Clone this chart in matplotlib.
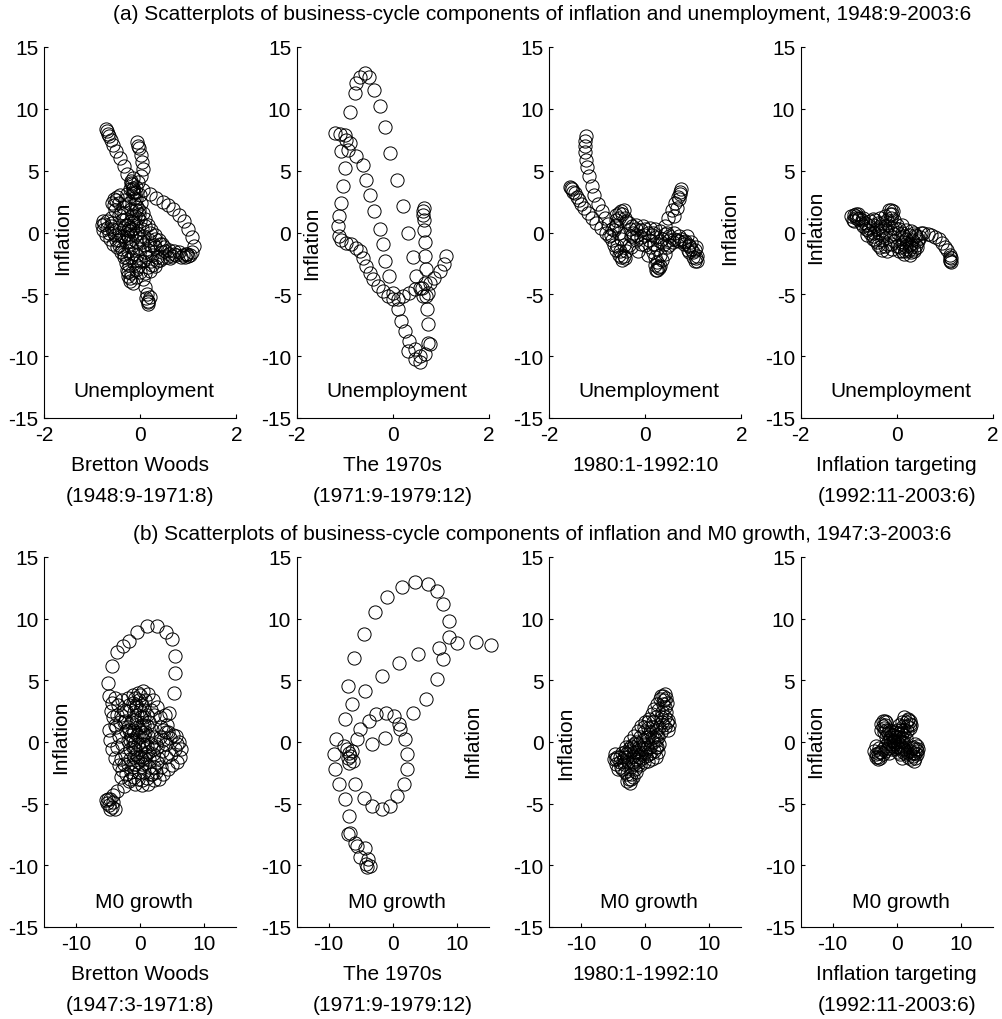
import numpy as np
from matplotlib import pyplot as plt

plt.rcParams['font.family'] = ['Liberation Sans', 'DejaVu Sans']
plt.rcParams['axes.unicode_minus'] = False

# business-cycle components, (x, inflation) pairs
# top row: unemployment vs inflation
bw_unemp = [
    (-0.72, 8.4), (-0.70, 8.2), (-0.68, 8.0), (-0.66, 7.8), (-0.62, 7.5), (-0.57, 7.1), (-0.50, 6.6),
    (-0.43, 6.0), (-0.35, 5.4), (-0.28, 4.7), (-0.20, 4.0), (-0.16, 3.5),
    (-0.07, 7.3), (-0.04, 7.0), (-0.02, 6.8), (0.01, 6.3), (0.04, 5.7), (0.06, 5.1), (0.02, 4.6),
    (-0.04, 4.1), (-0.10, 3.7), (-0.14, 3.2),
    (0.06, 3.4), (0.20, 3.1), (0.33, 2.8), (0.47, 2.5), (0.58, 2.25), (0.69, 1.9), (0.80, 1.45),
    (0.90, 0.95), (1.00, 0.3), (1.08, -0.4), (1.11, -1.1), (1.07, -1.6), (1.00, -1.9), (0.93, -2.0),
    (0.98, -1.7), (1.03, -1.85), (0.88, -1.8), (0.80, -1.6), (0.70, -1.5), (0.60, -1.4),
    (-0.18, 3.9), (-0.16, 3.3), (-0.14, 2.8), (-0.12, 2.3), (-0.10, 1.8), (-0.12, 1.3), (-0.15, 0.8),
    (-0.18, 0.3), (-0.20, -0.2), (-0.22, -0.7), (-0.20, -1.2), (-0.16, -1.7), (-0.10, -2.2),
    (-0.05, -2.7), (0.00, -3.2), (0.05, -3.8), (0.10, -4.4), (0.14, -5.0), (0.16, -5.5), (0.17, -5.8),
    (0.15, -5.6), (0.12, -5.3), (0.20, -5.2),
    (0.00, 3.0), (0.02, 2.4), (-0.02, 1.8), (-0.05, 1.2), (-0.08, 0.6), (-0.06, 0.0), (0.00, -0.5),
    (0.08, -1.0), (0.15, -1.4), (0.25, -1.8), (0.35, -2.0), (0.45, -2.1), (0.55, -2.0), (0.65, -1.9),
    (0.75, -1.85),
    (-0.78, 0.9), (-0.80, 0.6), (-0.78, 0.2), (-0.72, -0.2), (-0.64, -0.5), (-0.56, -0.9), (-0.48, -1.2),
    (-0.40, -1.6), (-0.34, -2.0), (-0.30, -2.5), (-0.28, -3.0), (-0.25, -3.5), (-0.22, -3.7), (-0.20, -3.3),
    (-0.50, 2.6), (-0.55, 2.2), (-0.52, 1.8), (-0.45, 1.4), (-0.38, 1.0), (-0.30, 0.6), (-0.25, 0.2),
    (-0.35, -0.3), (-0.45, -0.6), (-0.55, 0.0), (-0.62, 0.5), (-0.48, 2.9), (-0.42, 3.0),
    (0.10, 0.5), (0.20, 0.0), (0.30, -0.5), (0.40, -0.9), (0.50, -1.2), (0.20, -1.0), (0.10, -1.6),
    (0.05, -2.3), (0.15, -2.8), (0.25, -2.6), (0.35, -2.3), (0.30, -1.2), (0.45, -1.6), (0.60, -1.7),
    (-0.25, -3.2), (-0.22, -3.9), (-0.15, -4.1), (-0.10, -3.6),
    # dense core
    (-0.75, 0.7), (-0.70, 0.4), (-0.66, 0.0), (-0.70, 0.9), (-0.62, 1.2), (-0.60, 0.8), (-0.58, 0.3),
    (-0.52, -0.2), (-0.50, -0.6), (-0.44, -1.0), (-0.38, -1.3), (-0.33, -1.7), (-0.27, -2.1),
    (-0.24, -2.6), (-0.30, -0.8), (-0.26, -0.4), (-0.22, 0.1), (-0.26, 0.6), (-0.30, 1.1), (-0.34, 1.6),
    (-0.36, 2.1), (-0.32, 2.6), (-0.27, 3.1), (-0.22, 3.5), (-0.24, 2.4), (-0.20, 1.9), (-0.17, 1.4),
    (-0.19, 0.9), (-0.24, 0.4), (-0.28, -0.1), (-0.25, -1.5), (-0.20, -2.0), (-0.14, -2.5),
    (-0.10, -3.0), (-0.06, -1.8), (-0.02, -1.3), (0.03, -0.8), (0.07, -0.3), (0.04, 0.3), (0.00, 0.9),
    (-0.03, 1.5), (-0.06, 2.1), (-0.08, 2.7), (-0.10, 3.3), (0.05, 1.6), (0.10, 1.1), (0.15, 0.6),
    (0.22, 0.2), (0.30, -0.2), (0.38, -0.6), (0.45, -0.9), (0.52, -1.5), (0.40, -2.2), (0.30, -2.7),
    (0.20, -3.1), (0.10, -3.3), (0.00, -2.3), (0.12, -2.0), (0.22, -2.3), (0.62, -2.1), (0.70, -1.7),
    (0.85, -2.0), (0.95, -1.75), (-0.45, 0.2), (-0.40, -0.3), (-0.35, 0.4), (-0.40, 1.6),
    (-0.45, 2.4), (-0.55, 2.7), (-0.60, 2.4), (-0.12, -0.2), (-0.08, -0.7), (0.18, -0.6), (0.28, -1.0),
    (-0.16, 3.6), (-0.20, 4.2), (-0.15, 4.4),
]

s70_unemp = [
    (-1.21, 8.04), (-1.10, 7.98), (-1.00, 7.9), (-0.97, 7.5), (-0.90, 7.23), (-0.93, 6.7),
    (-0.90, 9.78), (-0.79, 11.26), (-0.76, 12.07), (-0.69, 12.6), (-0.58, 12.88), (-0.49, 12.6),
    (-0.38, 11.53), (-0.27, 10.19), (-0.17, 8.57), (-0.06, 6.42), (0.08, 4.27), (0.21, 2.12),
    (0.32, 0.0), (0.42, -2.0), (0.49, -3.5),
    (-0.76, 6.21), (-0.62, 5.48), (-0.55, 4.27), (-0.48, 3.06), (-0.38, 1.72), (-0.27, 0.3),
    (-0.20, -0.97), (-0.17, -2.3), (-0.08, -3.5), (0.01, -4.87), (0.11, -6.2), (0.18, -7.15),
    (0.25, -7.96), (0.34, -8.76), (0.46, -9.44), (0.56, -9.97), (0.56, -10.5), (0.31, -9.6),
    (0.77, -9.0), (0.67, -9.8), (0.46, -10.2),
    (0.74, -8.9), (0.74, -7.42), (0.72, -6.2), (0.70, -5.1), (0.67, -4.06), (0.69, -2.98),
    (0.67, -1.9), (0.67, -0.8), (0.65, 0.24), (0.65, 1.05), (0.63, 1.72), (0.65, 1.99), (0.63, 1.45),
    (0.77, -4.06), (0.87, -3.66), (0.98, -3.12), (1.06, -2.58), (1.12, -1.9), (0.74, -4.87),
    (0.63, -5.14), (0.60, -4.46),
    (-1.07, 6.56), (-1.00, 5.21), (-1.04, 3.74), (-1.07, 2.39), (-1.11, 1.32), (-1.14, 0.51),
    (-1.12, -0.3), (-1.07, -0.57), (-0.97, -0.83), (-0.86, -0.97), (-0.76, -1.24), (-0.69, -1.51),
    (-0.62, -2.04), (-0.55, -2.71), (-0.48, -3.25), (-0.41, -3.79), (-0.31, -4.33), (-0.20, -4.73),
    (-0.10, -5.14), (0.01, -5.35), (0.11, -5.35), (0.21, -5.14), (0.34, -4.87), (0.46, -4.6),
    (0.56, -4.46),
]

r80_unemp = [
    (-1.24, 7.8), (-1.26, 7.4), (-1.26, 7.0), (-1.25, 6.5), (-1.24, 5.9), (-1.21, 5.3), (-1.17, 4.6),
    (-1.12, 3.8), (-1.06, 3.0), (-0.98, 2.3), (-0.91, 1.7), (-0.84, 1.2), (-0.77, 0.7), (-0.70, 0.3),
    (-1.57, 3.7), (-1.55, 3.6), (-1.52, 3.5), (-1.50, 3.3), (-1.47, 3.2), (-1.43, 2.9), (-1.38, 2.6),
    (-1.33, 2.3), (-1.27, 2.0), (-1.20, 1.6), (-1.12, 1.2), (-1.02, 0.8), (-0.92, 0.4), (-0.82, 0.0),
    (-0.75, -0.3),
    (-0.70, -0.6), (-0.65, -1.0), (-0.60, -1.4), (-0.55, -1.8), (-0.50, -2.0), (-0.45, -1.9),
    (-0.40, -1.5), (-0.45, -1.0), (-0.50, -0.5), (-0.55, 0.0), (-0.60, 0.5), (-0.62, 1.0), (-0.60, 1.4),
    (-0.55, 1.6), (-0.48, 1.5), (-0.42, 1.2), (-0.35, 0.8), (-0.28, 0.5), (-0.20, 0.3), (-0.10, 0.2),
    (0.00, 0.3), (0.10, 0.4), (0.20, 0.3), (0.30, 0.1), (0.40, -0.1), (0.50, -0.3), (0.60, -0.5),
    (0.70, -0.7), (0.80, -0.9), (0.90, -1.1), (0.95, -1.3), (0.90, -1.0), (0.80, -0.8),
    (-0.30, -0.3), (-0.20, -0.6), (-0.10, -0.9), (0.00, -1.0), (0.10, -1.2), (0.15, -1.6), (0.20, -2.0),
    (0.25, -2.4), (0.27, -2.8), (0.25, -3.0), (0.30, -2.7), (0.20, -2.6), (0.35, -2.2), (0.40, -1.7),
    (0.45, -1.2), (0.50, -0.6), (0.45, 0.0), (0.41, 0.5), (0.48, 1.2), (0.55, 1.85), (0.62, 2.4),
    (0.68, 2.9), (0.72, 3.3), (0.74, 3.5), (0.72, 3.1), (0.70, 2.7), (0.65, 2.0), (0.60, 1.3),
    (0.86, -0.3), (0.96, -0.8), (1.03, -1.4), (1.07, -1.9), (1.08, -2.3), (1.05, -2.1), (1.00, -1.6),
    (1.05, -1.2), (-0.30, -1.2), (-0.15, -1.5), (0.05, -1.8), (-0.25, 0.0), (0.15, 0.0), (0.35, -0.5),
    (0.60, 0.0), (0.70, -0.3),
    # dense core
    (-0.72, -0.2), (-0.66, 0.2), (-0.62, 0.6), (-0.55, 1.2), (-0.50, 1.7), (-0.45, 1.8), (-0.40, 0.9),
    (-0.32, 0.3), (-0.25, -0.4), (-0.18, -0.2), (-0.10, -0.4), (-0.02, -0.2), (0.06, 0.0), (0.14, -0.2),
    (0.22, -0.4), (0.30, -0.7), (0.38, -0.9), (0.50, -1.0), (0.58, -0.8), (0.66, -0.6), (0.74, -0.5),
    (0.82, -0.7), (0.88, -1.4), (0.92, -1.6), (-0.58, -1.1), (-0.52, -1.5), (-0.48, -2.2),
    (-0.42, -2.1), (-0.35, -1.0), (-0.20, 0.6), (-0.05, 0.5), (0.08, -0.6), (0.18, -0.9), (0.24, -1.3),
    (0.30, -1.8), (0.22, -3.0), (0.28, -2.9), (1.00, -2.0), (1.04, -2.3),
]

it_unemp = [
    (-0.95, 1.3), (-0.90, 1.4), (-0.85, 1.2), (-0.92, 1.0), (-0.88, 0.9), (-0.80, 1.1), (-0.75, 0.8),
    (-0.70, 0.5), (-0.65, 0.3), (-0.60, 0.6), (-0.55, 0.9), (-0.50, 1.1), (-0.45, 1.0), (-0.40, 0.8),
    (-0.35, 0.5), (-0.30, 0.2), (-0.25, 0.5), (-0.20, 1.0), (-0.15, 1.5), (-0.12, 1.8), (-0.10, 1.5),
    (-0.05, 1.0), (0.00, 0.6), (0.05, 0.3), (0.10, 0.0), (0.15, -0.3), (0.20, -0.5), (0.25, -0.2),
    (0.30, 0.1), (0.35, 0.0), (0.40, -0.3), (0.45, -0.7), (0.40, -1.0), (0.35, -1.3), (0.30, -1.6),
    (0.25, -1.4), (0.20, -1.1), (0.10, -0.9), (0.00, -1.1), (-0.10, -1.3), (-0.20, -1.5), (-0.30, -1.4),
    (-0.40, -1.0), (-0.45, -0.6), (-0.50, -0.3), (-0.55, 0.0), (-0.60, 0.2), (-0.30, -0.6),
    (-0.20, -0.9), (0.05, -1.5), (0.15, -1.7), (0.30, -1.2), (0.50, 0.0), (0.55, 0.0), (0.65, -0.1),
    (0.72, -0.2), (0.80, -0.35), (0.88, -0.55), (0.95, -0.85), (1.00, -1.15), (1.05, -1.45),
    (1.10, -1.8), (1.13, -2.1), (1.14, -2.4), (1.12, -2.3), (1.10, -2.0), (1.12, -2.2), (-0.70, 1.2),
    (-0.80, 1.5), (-0.85, 1.5), (-0.10, 0.4), (-0.15, -0.2), (0.10, 0.6), (0.20, 0.2), (-0.35, 1.2),
    (-0.25, 1.3),
    # dense core
    (-0.85, 1.3), (-0.78, 1.2), (-0.72, 1.0), (-0.66, 0.8), (-0.58, 0.4), (-0.50, 0.6), (-0.42, 0.3),
    (-0.36, 0.0), (-0.28, -0.3), (-0.22, 0.1), (-0.18, 0.6), (-0.12, 1.2), (-0.08, 1.7), (-0.16, 1.8),
    (-0.04, 0.4), (0.02, 0.0), (0.08, -0.4), (0.14, -0.8), (0.20, -1.3), (0.26, -1.0), (0.32, -0.6),
    (0.38, -0.2), (0.44, -0.5), (0.36, -1.5), (0.28, -1.8), (0.18, -1.5), (0.06, -1.2), (-0.05, -0.7),
    (-0.12, -0.9), (-0.25, -1.1), (-0.35, -1.2), (-0.42, -0.8), (-0.50, -0.5), (-0.62, -0.2),
    (-0.48, 0.0), (-0.30, 0.8), (-0.06, -0.1), (0.12, -1.5), (0.30, -0.9), (0.48, -0.4), (0.42, -1.2),
]

# bottom row: M0 growth vs inflation
bw_m0 = [
    (-4.94, 3.74), (-5.10, 4.82), (-4.42, 6.17), (-3.63, 7.26), (-2.75, 7.8), (-1.80, 8.2),
    (-0.50, 8.88), (1.07, 9.42), (2.64, 9.42), (3.95, 8.88), (5.00, 8.34), (5.37, 6.99), (5.37, 5.63),
    (5.26, 4.0), (4.48, 2.38),
    (-4.6, 2.5), (-4.2, 2.0), (-3.8, 1.2), (-3.3, 0.5), (-2.8, -0.2), (-2.4, -1.0), (-2.0, -1.8),
    (-1.5, -2.4), (-1.0, -2.8), (-0.4, -3.0), (0.3, -3.1), (1.0, -2.9), (1.6, -2.6), (2.2, -2.0),
    (2.8, -1.3), (3.4, -0.7), (4.0, -0.2), (4.6, 0.3), (5.1, 0.6), (5.6, 0.5), (6.1, 0.0), (6.4, -0.6),
    (6.2, -1.2), (5.7, -1.6), (5.0, -1.9), (4.3, -2.2), (3.6, -2.6), (2.9, -3.0),
    (-4.9, 1.0), (-4.8, 0.2), (-4.5, -0.6), (-4.0, -1.3), (-3.4, -1.9), (-2.8, -2.3), (-2.2, -2.6),
    (-3.5, 3.0), (-2.8, 3.4), (-2.0, 3.6), (-1.2, 3.8), (-0.4, 4.0), (0.4, 4.1), (1.2, 3.9), (2.0, 3.4),
    (2.6, 2.8), (3.0, 2.0), (3.2, 1.2), (3.0, 0.4), (2.6, -0.4), (2.0, -1.0), (1.4, -1.4), (0.8, -1.7),
    (0.2, -1.8), (-0.4, -1.6), (-1.0, -1.2), (-1.6, -0.6), (-2.0, 0.1), (-2.3, 0.9), (-2.4, 1.7),
    (-2.2, 2.5), (-1.8, 3.0), (-1.2, 3.2), (-0.6, 3.0), (0.0, 2.6), (0.6, 2.0), (1.0, 1.3), (1.2, 0.5),
    (1.1, -0.3), (0.8, -1.0), (0.3, -1.4), (-0.3, -1.2), (-0.8, -0.6), (-1.1, 0.2), (-1.2, 1.0),
    (-1.0, 1.8), (-0.5, 2.2), (0.1, 2.0), (0.5, 1.4), (0.6, 0.6), (0.4, -0.2), (0.0, -0.6),
    (-0.4, -0.2), (-0.5, 0.6), (-0.3, 1.2), (0.2, 0.8),
    (-4.4, 3.2), (-3.9, 3.6), (3.8, 2.2), (4.2, 1.4), (4.4, 0.8), (3.6, 1.0), (-3.0, -2.8),
    (-1.8, -3.2), (-0.8, -3.4), (0.2, -3.5), (1.2, -3.4), (2.2, -3.1),
    (-1.55, -3.0), (-2.6, -3.57), (-3.64, -3.98), (-4.3, -4.3), (-4.68, -4.66), (-5.2, -4.93),
    (-4.9, -5.1), (-4.5, -5.3), (-3.9, -5.47), (-4.2, -4.9), (-5.0, -4.6), (-5.3, -4.7), (-4.8, -5.4),
    # dense core
    (-3.0, 2.2), (-2.6, 1.6), (-2.0, 1.2), (-1.5, 1.6), (-1.0, 2.4), (-0.6, 2.8), (-0.2, 3.4), (0.2, 3.0),
    (0.6, 2.6), (1.0, 2.2), (1.4, 1.6), (1.8, 1.0), (2.2, 0.4), (2.4, -0.2), (2.0, -0.6), (1.6, -0.2),
    (1.2, -0.8), (0.6, -1.2), (0.0, -1.2), (-0.6, -1.0), (-1.2, -0.4), (-1.6, 0.2), (-1.8, 1.0),
    (-1.4, 0.6), (-0.8, 0.0), (-0.2, 0.4), (0.4, 0.2), (0.8, 0.8), (0.2, 1.4), (-0.6, 1.6), (-1.0, 0.8),
    (-0.8, -1.8), (-0.2, -2.4), (0.6, -2.4), (1.4, -2.0), (2.6, -1.6), (3.2, -2.0), (4.0, -1.2),
    (4.8, -1.0), (5.4, -0.6), (5.8, -0.2), (-3.6, 2.2), (-4.0, 1.4), (-3.6, -0.4), (-3.0, -1.4),
    (-2.6, -1.8), (-3.2, 1.6), (-2.6, 2.6), (1.6, 2.6), (2.2, 2.2), (3.6, 0.2), (4.0, 0.8),
    (-1.6, -1.4), (-1.2, -2.0), (0.0, 3.8), (-0.8, 3.6), (0.8, 3.4), (1.8, -2.6), (2.4, -2.4),
]

s70_m0 = [
    (-6.11, 6.85), (-4.43, 8.75), (-2.71, 10.56), (-0.88, 11.72), (1.48, 12.54), (3.42, 12.94),
    (5.51, 12.81), (6.97, 12.27), (7.92, 11.18), (8.81, 9.83), (8.81, 8.48), (10.11, 8.02),
    (12.99, 8.07), (15.3, 7.85),
    (7.23, 7.66), (7.92, 6.72), (6.97, 5.09), (5.14, 3.47), (3.20, 2.38),
    (-7.05, 4.55), (-4.28, 4.14), (-1.66, 5.36), (1.06, 6.39), (3.99, 7.12),
    (-6.37, 3.06), (-7.42, 1.84), (-8.83, 0.22), (-9.25, -1.0), (-8.99, -2.22), (-8.46, -3.44),
    (-7.42, -4.66), (-6.90, -6.01), (-6.63, -7.36), (-5.85, -8.18), (-4.28, -8.58), (-6.94, -7.46),
    (-5.55, -8.4), (-5.05, -9.3), (-3.80, -9.5), (-3.50, -10.05), (-3.96, -10.1), (-4.2, -9.9),
    (-5.59, 0.22), (-5.06, 1.03), (-3.75, 1.71), (-2.55, 2.25), (-0.98, 2.38), (0.28, 2.11),
    (0.96, 1.44), (1.11, 1.03), (1.85, 0.22), (2.16, -1.0), (2.16, -2.22), (1.74, -3.44), (0.69, -4.39),
    (-0.35, -5.2), (-1.66, -5.47), (-3.23, -5.2), (-4.54, -4.52), (-5.85, -3.44),
    (-1.14, 0.35), (-3.23, -0.19), (-6.9, -0.87), (-7.2, -0.6), (-6.6, -1.1), (-7.0, -1.3),
    (-6.4, -0.7), (-6.8, -1.7), (-7.6, -0.3), (-6.2, -1.5),
]

r80_m0 = [
    (-4.9, -1.4), (-4.7, -1.0), (-4.5, -1.8), (-4.2, -2.2), (-3.8, -2.0), (-3.5, -1.5), (-3.0, -1.0),
    (-2.6, -0.6), (-2.2, -0.3), (-1.8, -0.8), (-1.5, -1.4), (-1.2, -1.8), (-1.6, -2.2), (-2.2, -2.6),
    (-2.6, -3.0), (-2.8, -3.2), (-2.4, -3.3), (-2.0, -2.8), (-1.4, -2.4), (-0.8, -1.9), (-0.2, -1.6),
    (0.4, -1.5), (1.0, -1.4), (1.6, -1.2), (2.0, -0.8), (2.2, -0.2), (2.0, 0.4), (1.6, 0.9), (1.0, 1.2),
    (0.4, 1.1), (-0.2, 0.8), (-0.8, 0.4), (-1.4, 0.0), (-2.0, -0.4), (-2.8, -1.2), (-3.4, -1.8),
    (-4.0, -1.6), (-3.6, -0.9), (-3.0, -0.4), (-2.4, 0.1), (-1.8, 0.5), (-1.2, 0.9), (-0.6, 1.3),
    (0.0, 1.6), (0.6, 1.9), (1.0, 2.3), (1.4, 2.7), (1.8, 3.1), (2.3, 3.5), (2.8, 3.7), (3.2, 3.6),
    (3.4, 3.2), (3.0, 2.8), (2.6, 2.4), (2.9, 3.4), (2.5, 3.7), (3.1, 3.9), (3.0, 2.0), (3.4, 1.6),
    (3.7, 1.4), (3.5, 1.0), (3.0, 1.2), (2.6, 1.6), (2.2, 1.2), (1.6, 0.2), (0.8, -0.4), (0.0, -0.8),
    (-0.6, -1.0), (-1.0, -0.4), (-0.4, 0.2), (0.4, 0.4), (1.2, 0.0), (1.8, -0.4), (-0.2, -0.2),
    (0.6, -1.0), (-1.0, -1.2), (-3.2, -2.4), (-2.0, -1.6),
    # dense core
    (-4.4, -1.2), (-3.9, -1.2), (-3.3, -1.2), (-2.7, -1.6), (-2.2, -2.0), (-1.7, -1.8), (-1.1, -1.5),
    (-0.5, -1.3), (0.1, -1.1), (0.7, -0.9), (1.3, -0.7), (1.6, -0.4), (1.4, 0.4), (0.8, 0.8), (0.2, 0.4),
    (-0.4, -0.5), (-1.2, -0.2), (-1.8, -0.2), (-2.4, -0.7), (-3.2, -0.8), (-2.0, -1.1), (-1.4, -0.8),
    (-0.8, -0.6), (0.2, -0.4), (1.0, 0.4), (1.8, 0.6), (2.4, 0.8), (2.4, 2.0), (2.0, 2.6), (1.6, 2.0),
    (1.2, 1.6), (0.4, 1.6), (-0.2, 1.2), (-2.8, -2.6), (-2.2, -3.0), (-3.6, -2.2), (-4.6, -1.4),
    (2.8, 1.4), (3.3, 2.4), (2.8, 3.1), (3.5, 1.8),
]

it_m0 = [
    (-3.3, -1.2), (-3.0, -1.4), (-2.6, -1.3), (-2.2, -1.0), (-1.8, -0.7), (-1.4, -0.5), (-1.0, -0.2),
    (-0.6, 0.1), (-0.2, 0.4), (0.2, 0.7), (0.6, 1.0), (1.0, 1.3), (1.4, 1.6), (1.8, 1.8), (2.1, 1.7),
    (2.3, 1.4), (2.0, 1.1), (1.6, 0.9), (1.2, 0.6),
    (-2.4, 1.5), (-2.2, 1.7), (-1.9, 1.4), (-1.7, 1.0), (-1.4, 0.7), (-1.0, 0.4), (-0.6, 0.1),
    (-0.2, -0.2), (0.2, -0.4), (0.6, -0.6), (1.0, -0.8), (1.4, -1.0), (1.8, -1.2), (2.3, -1.4),
    (2.8, -1.3), (3.2, -1.0), (3.4, -0.6), (3.2, -0.3), (2.8, -0.2), (2.4, -0.5), (2.0, -0.7),
    (-3.5, -0.7), (-3.2, -0.3), (-2.8, -0.5), (-2.4, -0.8), (-2.0, 0.8), (-2.5, 1.0), (-1.6, 1.6),
    (0.8, 1.6), (1.2, 2.0), (0.4, 1.4), (0.0, 1.0), (-0.4, 0.6), (0.3, 0.2), (-0.3, -0.5), (0.5, -1.0),
    (0.9, -1.3), (2.6, -0.9), (-0.8, -0.6), (-1.2, -0.9), (0.8, 0.3), (-0.9, 0.9), (2.7, -1.5),
    (3.0, -0.6),
    # dense core
    (-3.0, -0.9), (-2.6, -0.8), (-2.2, -0.6), (-1.8, -0.3), (-1.4, 0.0), (-1.0, 0.2), (-0.4, 0.2),
    (0.0, 0.0), (0.4, 0.4), (0.8, 0.7), (1.2, 1.0), (1.6, 1.3), (2.0, 1.5), (1.7, 1.9), (-2.2, 1.3),
    (-2.0, 1.1), (-1.8, 1.7), (-1.2, 1.0), (-0.8, 0.6), (-0.4, 0.0), (0.0, -0.4), (0.4, -0.2),
    (0.8, -0.4), (1.2, -0.6), (1.6, -0.8), (2.0, -1.0), (2.5, -1.1), (2.9, -0.9), (3.2, -0.7),
    (2.6, -0.4), (-3.2, -1.0), (-2.9, -1.2), (-0.2, 0.8), (0.2, 0.4), (0.6, 0.1), (-0.6, -0.3),
    (1.0, 0.0), (-1.6, 0.4), (1.4, 0.3), (0.2, -0.8),
]

top_data = [bw_unemp, s70_unemp, r80_unemp, it_unemp]
bottom_data = [bw_m0, s70_m0, r80_m0, it_m0]

top_periods = ['Bretton Woods\n(1948:9-1971:8)', 'The 1970s\n(1971:9-1979:12)',
               '1980:1-1992:10', 'Inflation targeting\n(1992:11-2003:6)']
bottom_periods = ['Bretton Woods\n(1947:3-1971:8)', 'The 1970s\n(1971:9-1979:12)',
                  '1980:1-1992:10', 'Inflation targeting\n(1992:11-2003:6)']

title_a = '(a) Scatterplots of business-cycle components of inflation and unemployment, 1948:9-2003:6'
title_b = '(b) Scatterplots of business-cycle components of inflation and M0 growth, 1947:3-2003:6'

# where "Inflation" sits in each panel (data coords)
top_infl_pos = [(-1.61, -0.4), (-1.69, -0.8), (1.76, 0.4), (-1.68, 0.5)]
bottom_infl_pos = [(-12.5, 0.5), (12.5, 0.1), (-12.5, 0.0), (-12.6, 0.1)]

FS = 15
W, H = 1002, 1020
lefts = [44.3, 296.7, 549.3, 800.7]
ax_w = 192


def style_axes(ax):
    ax.spines['top'].set_visible(False)
    ax.spines['right'].set_visible(False)
    for s in ['left', 'bottom']:
        ax.spines[s].set_linewidth(0.8)
    ax.tick_params(direction='in', length=3, width=0.8, labelsize=FS, pad=4)
    ax.tick_params(axis='x', pad=5)


def panel(fig, left, top_px, bottom_px, pts, xlim, xticks, xlabel, period, infl_pos, xlab_y):
    ax = fig.add_axes([left / W, 1 - bottom_px / H, ax_w / W, (bottom_px - top_px) / H])
    pts = np.asarray(pts)
    ax.plot(pts[:, 0], pts[:, 1], linestyle='none', marker='o', markersize=9.5,
            mfc='none', mec='black', mew=0.7, clip_on=False)
    ax.set_xlim(xlim)
    ax.set_ylim(-15, 15)
    ax.set_xticks(xticks)
    ax.set_yticks([-15, -10, -5, 0, 5, 10, 15])
    style_axes(ax)
    ax.text((xlim[0] + xlim[1]) / 2 + (xlim[1] - xlim[0]) * 0.02, xlab_y, xlabel,
            ha='center', va='center', fontsize=FS)
    ax.text(infl_pos[0], infl_pos[1], 'Inflation', rotation=90,
            ha='center', va='center', fontsize=FS)
    ax.annotate(period, xy=(0.5, 0), xycoords='axes fraction', xytext=(0, -27),
                textcoords='offset points', ha='center', va='top', fontsize=FS,
                linespacing=1.75)
    return ax


fig = plt.figure(figsize=(W / 100, H / 100), dpi=100)

for i in range(4):
    panel(fig, lefts[i], 48, 419, top_data[i], (-2, 2), [-2, 0, 2],
          'Unemployment', top_periods[i], top_infl_pos[i], -12.8)
    panel(fig, lefts[i], 558, 928, bottom_data[i], (-15, 15), [-10, 0, 10],
          'M0 growth', bottom_periods[i], bottom_infl_pos[i], -12.9)

fig.text(542 / W, 1 - 15 / H, title_a, ha='center', va='center', fontsize=FS)
fig.text(542 / W, 1 - 535 / H, title_b, ha='center', va='center', fontsize=FS)

fig.savefig('out.png', dpi=100)
